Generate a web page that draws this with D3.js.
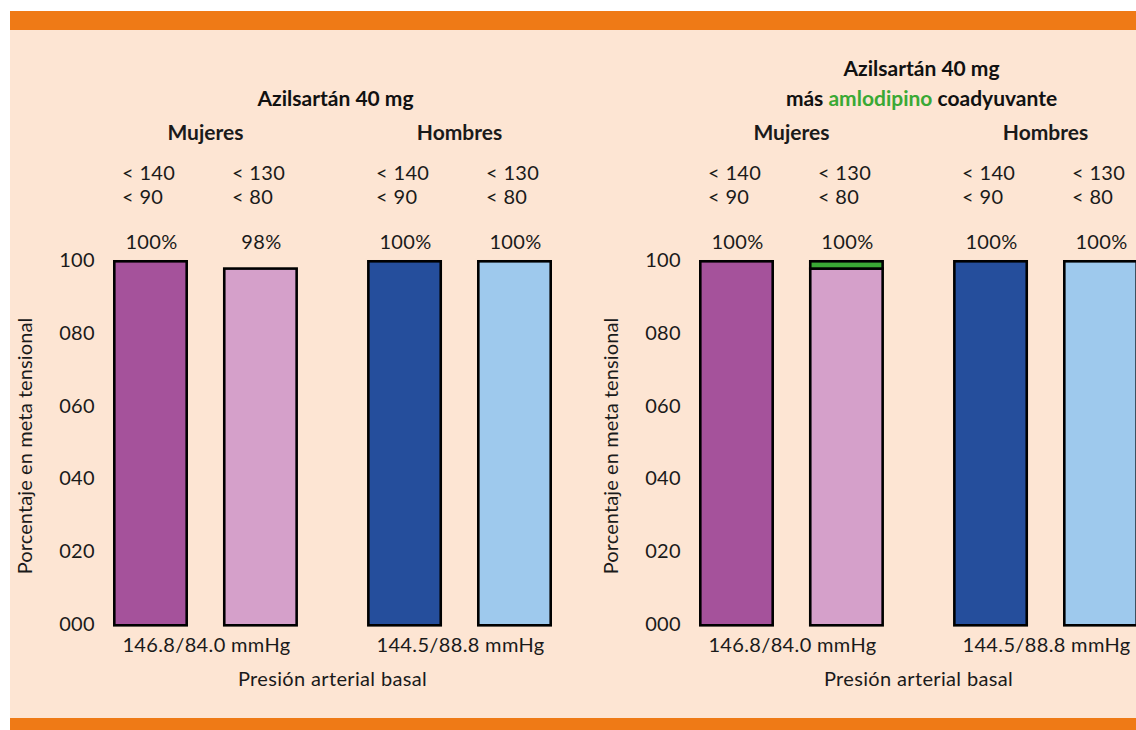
<!DOCTYPE html>
<html>
<head>
<meta charset="utf-8">
<script src="https://cdn.jsdelivr.net/npm/d3@7"></script>
<style>
  html, body { margin: 0; padding: 0; background: #ffffff; }
  svg { display: block; }
  text { font-family: "Lato", "Open Sans", sans-serif; fill: #1a1a1a; }
  .reg { font-size: 20px; letter-spacing: 0.35px; }
  .bold { font-size: 21px; font-weight: bold; }
</style>
</head>
<body>
<svg id="chart" width="1136" height="730"></svg>
<script>
// ---- data ----
const groups = ["Mujeres", "Hombres"];
const targets = ["t140", "t130"];
const targetLine1 = ["< 140", "< 130"];
const targetLine2 = ["< 90", "< 80"];
const baselinePressure = ["146.8/84.0 mmHg", "144.5/88.8 mmHg"];
const yTicks = [0, 20, 40, 60, 80, 100];

// panel 1: Azilsartán 40 mg
const azilValues = [100, 98, 100, 100];
const azilLabels = ["100%", "98%", "100%", "100%"];
// panel 2: Azilsartán 40 mg + amlodipino coadyuvante
const comboBase = [100, 98, 100, 100];
const comboAmlo = [0, 2, 0, 0];
const comboLabels = ["100%", "100%", "100%", "100%"];

const barColors = ["#a5529b", "#d5a0ca", "#254e9c", "#9ec9ed"];
const amloColor = "#3aa935";

const svg = d3.select("#chart");

// frame
svg.append("rect").attr("x", 10).attr("y", 30).attr("width", 1126).attr("height", 688).attr("fill", "#fde5d3");
svg.append("rect").attr("x", 10).attr("y", 11).attr("width", 1126).attr("height", 19).attr("fill", "#ef7a16");
svg.append("rect").attr("x", 10).attr("y", 718).attr("width", 1126).attr("height", 12).attr("fill", "#ef7a16");

// scales (shared by both panels)
const y = d3.scaleLinear().domain([0, 100]).range([624, 260]);
const xGroup = d3.scaleBand().domain(groups).range([113, 552]).paddingInner(0.272).paddingOuter(0);
const xInner = d3.scaleBand().domain(targets).range([0, xGroup.bandwidth()]).paddingInner(0.318).paddingOuter(0);

const sw = 2.6;

function drawPanel(offsetX, titleLines, base, extra, labels) {
  const g = svg.append("g").attr("transform", `translate(${offsetX},0)`);
  const plotCenter = (xGroup.range()[0] + xGroup.range()[1]) / 2;

  // titles
  titleLines.forEach((ln) => {
    const t = g.append("text")
      .attr("class", "bold")
      .attr("x", plotCenter + 3)
      .attr("y", ln.y)
      .attr("text-anchor", "middle");
    ln.parts.forEach(p => {
      t.append("tspan").text(p.text).style("fill", p.color || "#111");
    });
  });

  // group labels
  g.selectAll(".grp").data(groups).join("text")
    .attr("class", "bold")
    .attr("x", d => xGroup(d) + xGroup.bandwidth() / 2)
    .attr("y", 140)
    .attr("text-anchor", "middle")
    .text(d => d);

  // y axis
  const axis = d3.axisLeft(y).tickValues(yTicks).tickSize(0).tickPadding(18).tickFormat(d3.format("03d"));
  const ax = g.append("g").attr("transform", `translate(${xGroup.range()[0]},0)`).call(axis);
  ax.select(".domain").remove();
  ax.attr("font-size", null).attr("font-family", null);
  ax.selectAll("text").attr("class", "reg").attr("fill", "#1a1a1a");

  // y axis title
  g.append("text")
    .attr("class", "reg")
    .attr("transform", `translate(32,${(y(0) + y(100)) / 2 + 4}) rotate(-90)`)
    .attr("text-anchor", "middle")
    .style("letter-spacing", "0.1px")
    .text("Porcentaje en meta tensional");

  // bars
  const cells = [];
  groups.forEach((gr, gi) => targets.forEach((tg, ti) => {
    const i = gi * 2 + ti;
    cells.push({ gr, tg, ti, i, base: base[i], extra: extra[i], label: labels[i] });
  }));
  const bx = d => xGroup(d.gr) + xInner(d.tg);

  g.selectAll(".bar").data(cells).join("rect")
    .attr("x", d => bx(d) + sw / 2)
    .attr("width", xInner.bandwidth() - sw)
    .attr("y", d => y(d.base) + sw / 2)
    .attr("height", d => y(0) - y(d.base))
    .attr("fill", d => barColors[d.i])
    .attr("stroke", "#000")
    .attr("stroke-width", sw);

  g.selectAll(".extra").data(cells.filter(d => d.extra > 0)).join("rect")
    .attr("x", d => bx(d) + sw / 2)
    .attr("width", xInner.bandwidth() - sw)
    .attr("y", d => y(d.base + d.extra) + sw / 2)
    .attr("height", d => y(d.base) - y(d.base + d.extra))
    .attr("fill", amloColor)
    .attr("stroke", "#000")
    .attr("stroke-width", sw);

  // target labels (two lines)
  g.selectAll(".tl1").data(cells).join("text")
    .attr("class", "reg")
    .attr("x", d => bx(d) + 9)
    .attr("y", 180)
    .text(d => targetLine1[d.ti]);
  g.selectAll(".tl2").data(cells).join("text")
    .attr("class", "reg")
    .attr("x", d => bx(d) + 9)
    .attr("y", 204)
    .text(d => targetLine2[d.ti]);

  // percentage labels
  g.selectAll(".pct").data(cells).join("text")
    .attr("class", "reg")
    .attr("x", d => bx(d) + xInner.bandwidth() / 2 + 1)
    .attr("y", 249)
    .attr("text-anchor", "middle")
    .text(d => d.label);

  // baseline pressure labels
  g.selectAll(".bp").data(groups).join("text")
    .attr("class", "reg")
    .attr("x", (d) => xGroup(d) + xGroup.bandwidth() / 2 + 1)
    .attr("y", 652)
    .attr("text-anchor", "middle")
    .text((d, i) => baselinePressure[i]);

  g.append("text")
    .attr("class", "reg")
    .attr("x", plotCenter)
    .attr("y", 686)
    .attr("text-anchor", "middle")
    .text("Presión arterial basal");
}

drawPanel(0,
  [{ y: 106, parts: [{ text: "Azilsartán 40 mg" }] }],
  azilValues, [0, 0, 0, 0], azilLabels);

drawPanel(586,
  [{ y: 76, parts: [{ text: "Azilsartán 40 mg" }] },
   { y: 106, parts: [{ text: "más " }, { text: "amlodipino", color: amloColor }, { text: " coadyuvante" }] }],
  comboBase, comboAmlo, comboLabels);
</script>
</body>
</html>
